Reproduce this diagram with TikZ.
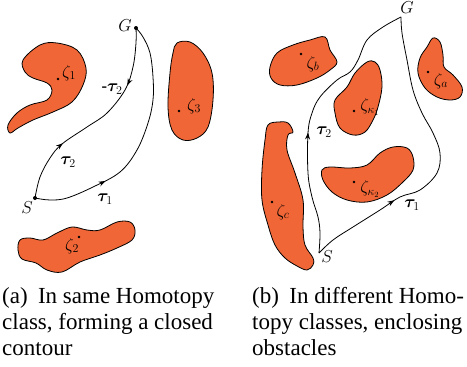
\documentclass[tikz,border=0pt]{standalone}
\usepackage{fontspec}
\setmainfont{Liberation Serif}
\usepackage{bm}
\usetikzlibrary{decorations.markings,arrows.meta}
\definecolor{obsorange}{RGB}{241,102,54}
\begin{document}
\begin{tikzpicture}[x=1pt,y=-1pt,
 obst/.style={draw=black, line width=0.8pt, fill=obsorange},
 pathln/.style={draw, line width=0.8pt},
 dotn/.style={circle, fill=black, inner sep=0pt, minimum size=2.8pt},
 endpt/.style={circle, fill=black, inner sep=0pt, minimum size=4pt},
 lbl/.style={font=\fontsize{16.5}{18}\selectfont, inner sep=0pt},
 captxt/.style={font=\fontsize{23}{26}\selectfont, align=left, anchor=north west, inner sep=0pt},
 fwd/.style={postaction={decorate, decoration={markings, mark=at position #1 with {\arrow{Stealth[length=7pt,width=5pt]}}}}},
 bwd/.style={postaction={decorate, decoration={markings, mark=at position #1 with {\arrowreversed{Stealth[length=7pt,width=5pt]}}}}}
]
\useasboundingbox (0,0) rectangle (467,367);

% ---------- panel (a) ----------
\draw[obst] plot[smooth cycle, tension=0.6] coordinates {(23,60) (40,45) (57,43) (77,50) (86,68) (83,85) (72,102) (53,112) (33,120) (18,128) (10,133) (8,125) (17,113) (30,105) (47,100) (52,90) (47,83) (33,78) (25,72)};
\draw[obst] plot[smooth cycle, tension=0.6] coordinates {(177,43) (190,42) (203,53) (212,73) (213,100) (208,127) (197,138) (183,140) (172,130) (168,107) (170,73) (173,53)};
\draw[obst] plot[smooth cycle, tension=0.6] coordinates {(20,240) (30,238) (43,240) (57,233) (72,227) (87,230) (100,230) (117,222) (130,222) (135,230) (132,240) (117,248) (100,255) (80,262) (62,272) (47,270) (36,263) (22,259) (18,250)};

\node[dotn] (z1) at (58,79) {};
\node[lbl] (lz1) at (69,73) {$\zeta_1$};
\node[dotn] (z3) at (179,111) {};
\node[lbl] (lz3) at (194,106) {$\zeta_3$};
\node[dotn] (z2) at (79,237) {};
\node[lbl] (lz2) at (72,246) {$\zeta_2$};

\node[endpt] (Sa) at (35,198) {};
\node[endpt] (Ga) at (136,28) {};
\node[lbl] (lSa) at (27,208) {$S$};
\node[lbl] (lGa) at (125,26) {$G$};

\draw[pathln, fwd=0.3] plot[smooth, tension=0.6] coordinates {(Sa.center) (50,200) (67,198) (93,187) (120,172) (137,150) (148,123) (153,100) (153,77) (150,53) (143,37) (Ga.center)};
\draw[pathln, fwd=0.3, bwd=0.72] plot[smooth, tension=0.6] coordinates {(Sa.center) (40,177) (50,158) (62,144) (87,127) (107,113) (125,90) (133,67) (136,43) (Ga.center)};

\node[lbl] (t1a) at (105,199) {$\bm{\tau}_1$};
\node[lbl] (t2a) at (68,162) {$\bm{\tau}_2$};
\node[lbl] (mt2a) at (112,89) {\textbf{-}$\bm{\tau}_2$};

% ---------- panel (b) ----------
\draw[obst] plot[smooth cycle, tension=0.6] coordinates {(270,67) (277,53) (293,45) (310,40) (325,37) (330,50) (337,62) (330,70) (317,78) (297,85) (280,85) (271,78)};
\draw[obst] plot[smooth cycle, tension=0.6] coordinates {(433,38) (440,42) (443,55) (444,67) (453,75) (462,87) (460,97) (450,100) (437,97) (425,88) (418,73) (420,58) (427,47)};
\draw[obst] plot[smooth cycle, tension=0.6] coordinates {(367,62) (375,62) (380,70) (382,87) (378,107) (373,120) (365,132) (353,135) (340,128) (335,113) (335,100) (347,87) (355,73)};
\draw[obst] plot[smooth cycle, tension=0.6] coordinates {(322,170) (330,167) (350,168) (367,165) (380,153) (393,147) (407,148) (413,157) (413,170) (403,182) (387,195) (367,202) (347,200) (332,192) (323,180)};
\draw[obst] plot[smooth cycle, tension=0.6] coordinates {(268,125) (278,122) (288,123) (293,132) (288,135) (287,150) (295,173) (303,200) (303,227) (305,245) (313,258) (313,265) (307,270) (297,266) (285,258) (275,245) (268,225) (262,200) (262,170) (265,140)};

\node[dotn] (zb) at (301,54) {};
\node[lbl] (lzb) at (313,64) {$\zeta_b$};
\node[dotn] (za) at (428,72) {};
\node[lbl] (lza) at (441,81) {$\zeta_a$};
\node[dotn] (zk1) at (354,111) {};
\node[lbl] (lzk1) at (370,107) {$\zeta_{\kappa_1}$};
\node[dotn] (zk2) at (354,182) {};
\node[lbl] (lzk2) at (370,189) {$\zeta_{\kappa_2}$};
\node[dotn] (zc) at (272,202) {};
\node[lbl] (lzc) at (283,212) {$\zeta_c$};

\coordinate (Sb) at (319,253);
\coordinate (Gb) at (401,17);
\node[lbl] (lSb) at (327,257) {$S$};
\node[lbl] (lGb) at (407,8) {$G$};

\draw[pathln, fwd=0.3] plot[smooth, tension=0.6] coordinates {(Sb) (333,240) (353,227) (380,210) (400,197) (420,190) (437,173) (440,153) (433,133) (422,113) (413,90) (407,60) (402,33) (Gb)};
\draw[pathln, fwd=0.44] plot[smooth, tension=0.6] coordinates {(Sb) (320,233) (318,217) (312,197) (308,173) (308,133) (312,113) (320,97) (337,80) (350,72) (358,60) (367,40) (383,27) (Gb)};

\node[lbl] (t1b) at (412,205) {$\bm{\tau}_1$};
\node[lbl] (t2b) at (324,132) {$\bm{\tau}_2$};

% ---------- captions ----------
\node[captxt] (capa) at (2,287) {(a)\hspace{0.2em} In same Homotopy\\class, forming a closed\\contour};
\node[captxt] (capb) at (252,287) {(b)\hspace{0.2em} In different Homo-\\topy classes, enclosing\\obstacles};
\end{tikzpicture}
\end{document}
